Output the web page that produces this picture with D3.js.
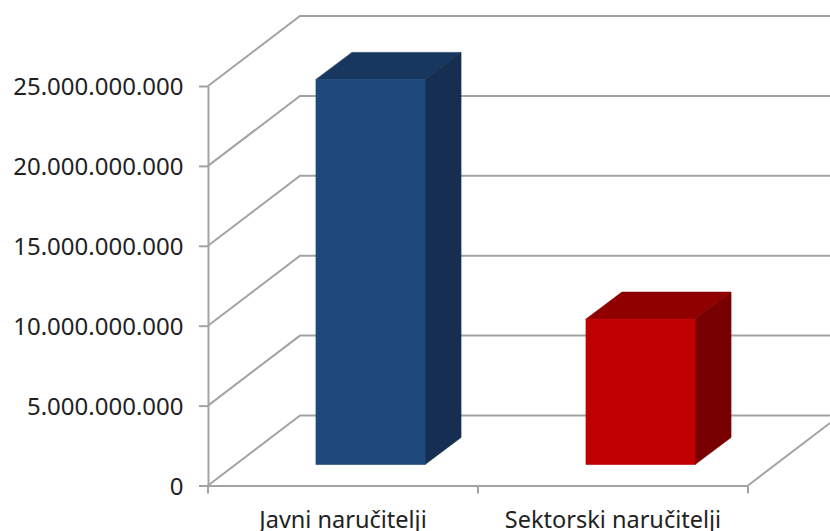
<!DOCTYPE html>
<html>
<head>
<meta charset="utf-8">
<script src="https://cdnjs.cloudflare.com/ajax/libs/d3/7.8.5/d3.min.js"></script>
<style>
html,body{margin:0;padding:0;background:#fff;overflow:hidden}
svg{display:block}
text{font-family:"Noto Sans",sans-serif;fill:#222}
</style>
</head>
<body>
<svg id="c" width="830" height="531"></svg>
<script>
const categories = ["Javni naručitelji", "Sektorski naručitelji"];
const values = [24100000000, 9100000000];
const yTicks = [0, 5000000000, 10000000000, 15000000000, 20000000000, 25000000000];
const frontColors = ["#1f497d", "#c00000"];
const topColors = ["#17375e", "#900000"];
const sideColors = ["#152e51", "#780000"];

(function () {
const W = 830;
const plotLeft = 208, plotRight = 748, plotBottom = 485.5, plotTop = 86;
const wallDx = 92, wallDy = 70;
const barOffX = 27.5, barOffY = 21, barDx = 36, barDy = 27;
const gridColor = "#a3a3a3";

const svg = d3.select("#c");
const y = d3.scaleLinear().domain([0, 25000000000]).range([plotBottom, plotTop]);
const xAxisScale = d3.scaleBand().domain(categories).range([plotLeft, plotRight]);
const x = d3.scaleBand().domain(categories).range([plotLeft, plotRight]).paddingInner(0.596).paddingOuter(0.298);
const fmt = d3.formatLocale({decimal: ",", thousands: ".", grouping: [3], currency: ["", ""]}).format(",d");

// walls: gridlines
const grid = svg.append("g").attr("fill", "none").attr("stroke", gridColor).attr("stroke-width", 2);
grid.selectAll("path").data(yTicks).join("path")
  .attr("d", d => d3.line()([[plotLeft, y(d)], [plotLeft + wallDx, y(d) - wallDy], [W, y(d) - wallDy]]));
// floor right edge
grid.append("line")
  .attr("x1", plotRight).attr("y1", plotBottom)
  .attr("x2", W).attr("y2", plotBottom - (W - plotRight) * wallDy / wallDx);

// bars
const bars = svg.append("g").selectAll("g").data(categories).join("g");
const x0 = (c) => x(c) + barOffX;
const x1 = (c) => x0(c) + x.bandwidth();
const yBase = y(0) - barOffY;
const yTop = (i) => y(values[i]) - barOffY;

bars.append("path").attr("fill", (c, i) => topColors[i]).attr("stroke", (c, i) => topColors[i]).attr("stroke-width", 0.6)
  .attr("d", (c, i) => d3.line()([[x0(c), yTop(i)], [x0(c) + barDx, yTop(i) - barDy], [x1(c) + barDx, yTop(i) - barDy], [x1(c), yTop(i)]]) + "Z");
bars.append("path").attr("fill", (c, i) => sideColors[i]).attr("stroke", (c, i) => sideColors[i]).attr("stroke-width", 0.6)
  .attr("d", (c, i) => d3.line()([[x1(c), yTop(i)], [x1(c) + barDx, yTop(i) - barDy], [x1(c) + barDx, yBase - barDy], [x1(c), yBase]]) + "Z");
bars.append("rect").attr("fill", (c, i) => frontColors[i]).attr("stroke", (c, i) => frontColors[i]).attr("stroke-width", 0.6)
  .attr("x", c => x0(c)).attr("y", (c, i) => yTop(i))
  .attr("width", x.bandwidth()).attr("height", (c, i) => yBase - yTop(i));

// axes
const yAxis = svg.append("g").attr("transform", `translate(${plotLeft},0)`)
  .call(d3.axisLeft(y).tickValues(yTicks).tickFormat(fmt).tickSize(9).tickSizeOuter(0).tickPadding(15.5));
const xAxis = svg.append("g").attr("transform", `translate(0,${plotBottom})`)
  .call(d3.axisBottom(xAxisScale).tickSize(0).tickPadding(26));
xAxis.selectAll(".tick line").remove();
// category boundary ticks
xAxis.selectAll("line.sep").data([plotLeft, plotLeft + xAxisScale.step(), plotRight]).join("line")
  .attr("class", "sep").attr("x1", d => d).attr("x2", d => d).attr("y1", 0).attr("y2", 8);

svg.selectAll(".domain, .tick line, line.sep").attr("stroke", gridColor).attr("stroke-width", 2);
svg.selectAll(".tick text").attr("font-size", 24).attr("font-family", '"Noto Sans",sans-serif').attr("fill", "#222");
yAxis.selectAll(".tick text").attr("dy", "0.36em");
xAxis.selectAll(".tick text").attr("font-size", 23.5);
})();
</script>
</body>
</html>
